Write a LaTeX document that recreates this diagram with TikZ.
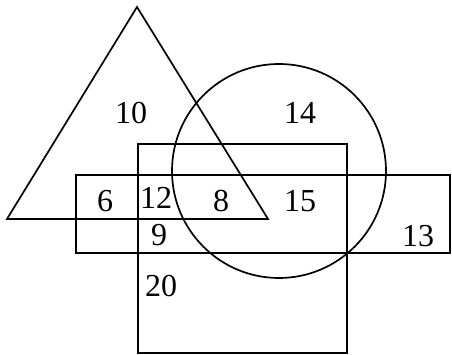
\documentclass[tikz,border=0pt]{standalone}
\usepackage{fontspec}
\setmainfont{Liberation Serif}
\usepackage{tikz}
\usetikzlibrary{calc}

\begin{document}
\begin{tikzpicture}[
        x=1pt, y=-1pt,
        outline/.style={draw, line width=1.7pt, line join=miter},
        num/.style={font=\fontsize{32}{38}\selectfont, inner sep=0pt}
    ]

    \useasboundingbox (0,0) rectangle (452,355);

    % Triangle
    \draw[outline] (137,7) -- (268,219) -- (7,219) -- cycle;

    % Circle
    \draw[outline] (279,171) circle[radius=107];

    % Square
    \draw[outline] (138,144) rectangle (347,353);

    % Horizontal rectangle
    \draw[outline] (76,175) rectangle (450,253);

    % Numbers
    \node[num] (tri) at (131,113) {10};
    \node[num] (cir) at (300,113) {14};
    \node[num] (trirect) at (105,201) {6};
    \node[num] (trisqrect) at (156,198) {12};
    \node[num] (all) at (221,201) {8};
    \node[num] (cirsqrect) at (300,201) {15};
    \node[num] (sqrect) at (159,235) {9};
    \node[num] (rect) at (418,236) {13};
    \node[num] (sq) at (161,286) {20};

    \end{tikzpicture}
\end{document}
